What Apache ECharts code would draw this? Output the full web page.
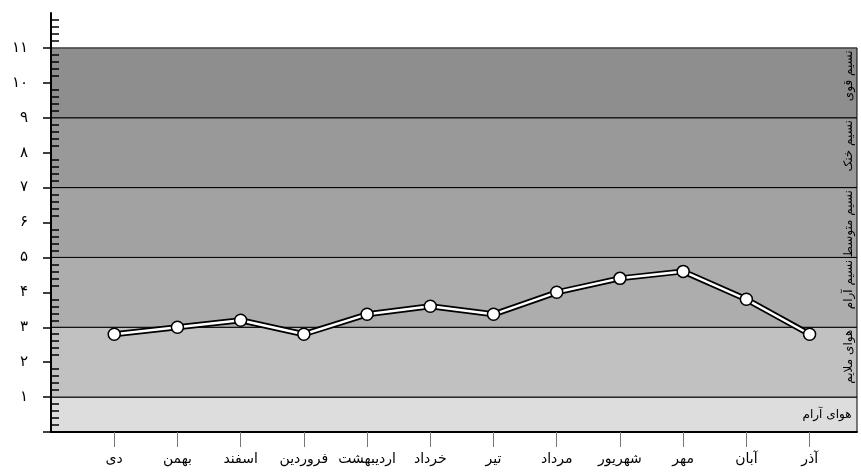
<!DOCTYPE html>
<html>
<head>
<meta charset="utf-8">
<script src="https://cdn.jsdelivr.net/npm/echarts@6/dist/echarts.min.js"></script>
<style>
  html, body { margin: 0; padding: 0; background: #fff; }
  #chart { width: 861px; height: 473px; }
</style>
</head>
<body>
<div id="chart"></div>
<script>
// ماه‌ها (محور افقی)
const months = ['دی', 'بهمن', 'اسفند', 'فروردین', 'اردیبهشت', 'خرداد', 'تیر', 'مرداد', 'شهریور', 'مهر', 'آبان', 'آذر'];
// سرعت باد در هر ماه
const windSpeed = [2.8, 3.0, 3.2, 2.8, 3.37, 3.6, 3.37, 4.0, 4.4, 4.6, 3.8, 2.8];
// مرزهای طبقه‌ها و نام آن‌ها
const bandEdges = [0, 1, 3, 5, 7, 9, 11];
const bandNames = ['هوای آرام', 'هوای ملایم', 'نسیم آرام', 'نسیم متوسط', 'نسیم خنک', 'نسیم قوی'];
// برچسب‌های محور عمودی
const yTickLabels = ['', '۱', '۲', '۳', '۴', '۵', '۶', '۷', '۸', '۹', '۱۰', '۱۱', ''];

const bandColors = ['#dddddd', '#c1c1c1', '#adadad', '#a2a2a2', '#999999', '#8e8e8e'];
const font = "'DejaVu Sans', sans-serif";

const points = windSpeed.map((v, i) => [i, v]);
const monthIdx = months.map((m, i) => i);

const bands = bandNames.map((name, i) => {
  const first = i === 0;
  return [
    {
      yAxis: bandEdges[i],
      itemStyle: { color: bandColors[i], borderColor: '#000', borderWidth: 1 },
      label: first
        ? { show: true, formatter: name, position: 'insideRight', distance: 6, color: '#000', fontSize: 12, fontFamily: font }
        : { show: true, formatter: name, position: 'insideTopRight', rotate: 90, align: 'right', verticalAlign: 'bottom', distance: 3, color: '#000', fontSize: 12, fontFamily: font }
    },
    { yAxis: bandEdges[i + 1] }
  ];
});

const chart = echarts.init(document.getElementById('chart'), null, { renderer: 'canvas' });

chart.setOption({
  animation: false,
  backgroundColor: '#fff',
  grid: { left: 51, right: 4, top: 13, bottom: 41, containLabel: false },
  xAxis: {
    type: 'value',
    min: -1,
    max: 11.75,
    interval: 1,
    z: 10,
    splitLine: { show: false },
    axisLine: { show: true, onZero: false, lineStyle: { color: '#000', width: 2 } },
    axisTick: { show: true, customValues: monthIdx, length: 15, lineStyle: { color: '#777', width: 1 } },
    axisLabel: {
      customValues: monthIdx,
      formatter: v => months[v],
      margin: 20,
      color: '#000',
      fontSize: 14,
      fontFamily: font
    }
  },
  yAxis: {
    type: 'value',
    min: 0,
    max: 12,
    interval: 1,
    z: 10,
    splitLine: { show: false },
    axisLine: { show: true, onZero: false, lineStyle: { color: '#000', width: 2 } },
    axisTick: { show: true, customValues: [0, 1, 2, 3, 4, 5, 6, 7, 8, 9, 10, 11], length: 8, lineStyle: { color: '#000', width: 1.5 } },
    minorTick: { show: true, splitNumber: 5, length: -8, lineStyle: { color: '#000', width: 1.5 } },
    axisLabel: {
      formatter: v => yTickLabels[v] || '',
      margin: 23,
      color: '#000',
      fontSize: 15,
      fontFamily: font
    }
  },
  series: [
    {
      // طبقه‌بندی پس‌زمینه
      type: 'line',
      data: [],
      z: 1,
      silent: true,
      markArea: { silent: true, data: bands }
    },
    {
      // حاشیه سیاه خط
      type: 'line',
      data: points,
      z: 3,
      symbol: 'none',
      silent: true,
      lineStyle: { color: '#000', width: 6 }
    },
    {
      type: 'line',
      data: points,
      z: 4,
      symbol: 'circle',
      symbolSize: 12,
      lineStyle: { color: '#fff', width: 2.5 },
      itemStyle: { color: '#fff', borderColor: '#000', borderWidth: 1.5 }
    }
  ]
});
</script>
</body>
</html>
